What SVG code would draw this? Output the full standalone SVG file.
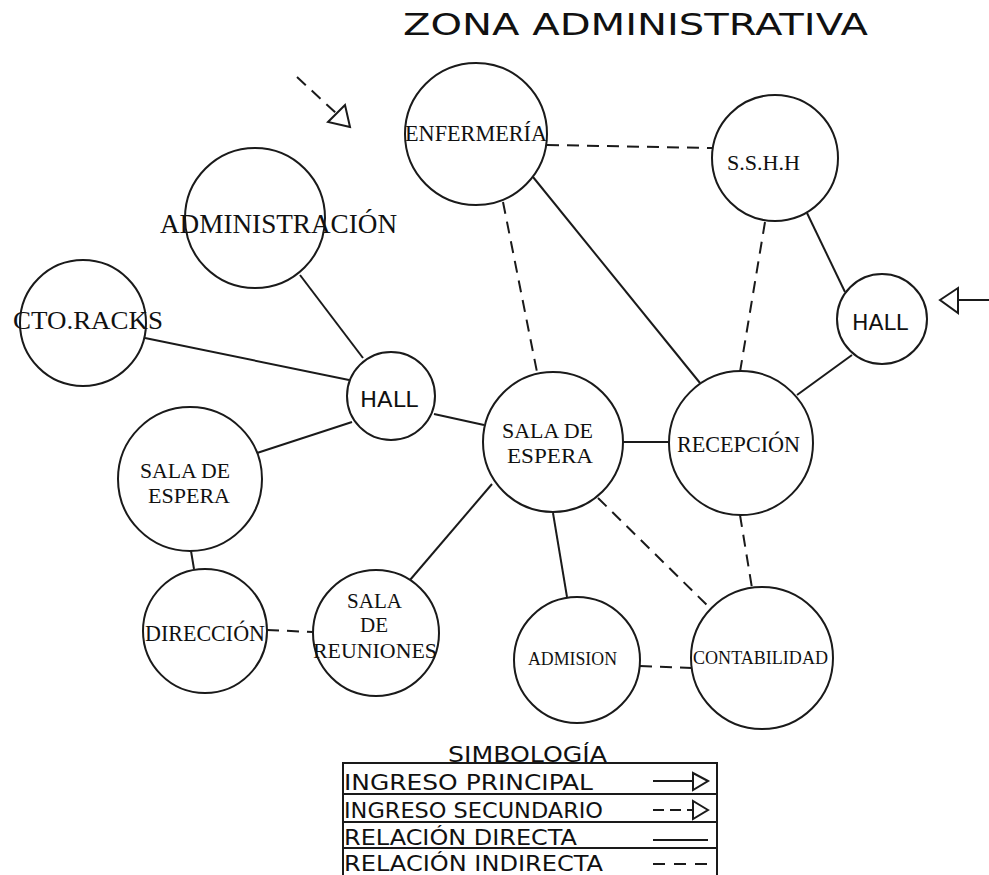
<svg xmlns="http://www.w3.org/2000/svg" width="989" height="875" viewBox="0 0 989 875">
<style>
.n{fill:#fff;stroke:#1a1a1a;stroke-width:2}
.s{font-family:"Liberation Serif","Times New Roman",serif;fill:#111;text-anchor:start}
.g{font-family:"DejaVu Sans","Liberation Sans",sans-serif;fill:#111}
.d{stroke:#1a1a1a;stroke-width:2;fill:none}
.i{stroke:#1a1a1a;stroke-width:2;fill:none;stroke-dasharray:12 8}
.t{fill:#fff;stroke:#1a1a1a;stroke-width:2}
</style>
<rect width="989" height="875" fill="#fff"/>
<text class="g" x="403" y="35" font-size="31" textLength="465" lengthAdjust="spacingAndGlyphs">ZONA ADMINISTRATIVA</text>

<g id="connectors">
<line class="i" x1="547" y1="145" x2="712" y2="148"/>
<line class="i" x1="503" y1="202" x2="537" y2="372"/>
<line class="d" x1="533" y1="177" x2="700" y2="383"/>
<line class="i" x1="765" y1="222" x2="740" y2="372"/>
<line class="d" x1="807" y1="213" x2="845" y2="292"/>
<line class="d" x1="852" y1="355" x2="797" y2="395"/>
<line class="d" x1="623" y1="442" x2="670" y2="442"/>
<line class="d" x1="553" y1="513" x2="567" y2="597"/>
<line class="i" x1="598" y1="498" x2="712" y2="610"/>
<line class="i" x1="740" y1="515" x2="752" y2="588"/>
<line class="i" x1="640" y1="666" x2="692" y2="668"/>
<line class="d" x1="434" y1="414" x2="484" y2="425"/>
<line class="d" x1="492" y1="484" x2="410" y2="580"/>
<line class="d" x1="300" y1="275" x2="363" y2="358"/>
<line class="d" x1="145" y1="338" x2="349" y2="380"/>
<line class="d" x1="257" y1="453" x2="352" y2="422"/>
<line class="d" x1="191" y1="551" x2="194" y2="569"/>
<line class="i" x1="267" y1="630" x2="313" y2="632"/>
<line class="i" x1="297" y1="77" x2="337" y2="114"/>
<polygon class="t" points="350,127 328,122 345,105"/>
<line class="d" x1="958" y1="300" x2="989" y2="300"/>
<polygon class="t" points="940,300 958,288 958,313"/>
</g>

<g id="enfermeria"><circle class="n" cx="476" cy="134" r="71"/><text class="s" x="405" y="141" font-size="24" textLength="142" lengthAdjust="spacingAndGlyphs">ENFERMERÍA</text></g>
<g id="sshh"><circle class="n" cx="775" cy="158" r="63"/><text class="s" x="727" y="170" font-size="22" textLength="73" lengthAdjust="spacingAndGlyphs">S.S.H.H</text></g>
<g id="hall-derecho"><circle class="n" cx="882" cy="319" r="45"/><text class="g" x="852" y="330" font-size="22" textLength="56" lengthAdjust="spacingAndGlyphs">HALL</text></g>
<g id="administracion"><circle class="n" cx="255" cy="218" r="70"/><text class="s" x="160" y="233" font-size="27" textLength="237" lengthAdjust="spacingAndGlyphs">ADMINISTRACIÓN</text></g>
<g id="cto-racks"><circle class="n" cx="83" cy="323" r="63"/><text class="s" x="13" y="329" font-size="26" textLength="150" lengthAdjust="spacingAndGlyphs">CTO.RACKS</text></g>
<g id="hall-izquierdo"><circle class="n" cx="391" cy="396" r="44"/><text class="g" x="360" y="407" font-size="22" textLength="58" lengthAdjust="spacingAndGlyphs">HALL</text></g>
<g id="sala-espera-izq"><circle class="n" cx="190" cy="479" r="72"/><text class="s" x="140" y="478" font-size="22" textLength="90" lengthAdjust="spacingAndGlyphs">SALA DE</text><text class="s" x="148" y="503" font-size="22" textLength="82" lengthAdjust="spacingAndGlyphs">ESPERA</text></g>
<g id="direccion"><circle class="n" cx="205" cy="631" r="62"/><text class="s" x="145" y="641" font-size="23" textLength="120" lengthAdjust="spacingAndGlyphs">DIRECCIÓN</text></g>
<g id="sala-reuniones"><circle class="n" cx="376" cy="633" r="63"/><text class="s" x="347" y="608" font-size="22" textLength="55" lengthAdjust="spacingAndGlyphs">SALA</text><text class="s" x="360" y="632" font-size="22" textLength="28" lengthAdjust="spacingAndGlyphs">DE</text><text class="s" x="313" y="658" font-size="22" textLength="124" lengthAdjust="spacingAndGlyphs">REUNIONES</text></g>
<g id="sala-espera"><circle class="n" cx="553" cy="442" r="70"/><text class="s" x="502" y="438" font-size="22" textLength="91" lengthAdjust="spacingAndGlyphs">SALA DE</text><text class="s" x="507" y="463" font-size="22" textLength="86" lengthAdjust="spacingAndGlyphs">ESPERA</text></g>
<g id="recepcion"><circle class="n" cx="741" cy="443" r="72"/><text class="s" x="677" y="452" font-size="23" textLength="123" lengthAdjust="spacingAndGlyphs">RECEPCIÓN</text></g>
<g id="admision"><circle class="n" cx="577" cy="660" r="63"/><text class="s" x="528" y="665" font-size="18" textLength="89" lengthAdjust="spacingAndGlyphs">ADMISION</text></g>
<g id="contabilidad"><circle class="n" cx="762" cy="658" r="71"/><text class="s" x="693" y="664" font-size="18" textLength="135" lengthAdjust="spacingAndGlyphs">CONTABILIDAD</text></g>

<g id="simbologia">
<text class="g" x="448" y="762" font-size="21" textLength="159" lengthAdjust="spacingAndGlyphs">SIMBOLOGÍA</text>
<rect x="343" y="763" width="374" height="120" fill="none" stroke="#1a1a1a" stroke-width="2"/>
<line class="d" x1="343" y1="794" x2="717" y2="794"/>
<line class="d" x1="343" y1="822" x2="717" y2="822"/>
<line class="d" x1="343" y1="848" x2="717" y2="848"/>
<text class="g" x="344" y="790" font-size="22" textLength="249" lengthAdjust="spacingAndGlyphs">INGRESO PRINCIPAL</text>
<text class="g" x="344" y="818" font-size="22" textLength="259" lengthAdjust="spacingAndGlyphs">INGRESO SECUNDARIO</text>
<text class="g" x="344" y="845" font-size="22" textLength="233" lengthAdjust="spacingAndGlyphs">RELACIÓN DIRECTA</text>
<text class="g" x="344" y="871" font-size="21" textLength="259" lengthAdjust="spacingAndGlyphs">RELACIÓN INDIRECTA</text>
<line class="d" x1="653" y1="781" x2="693" y2="781"/>
<polygon class="t" points="708,781 693,773 693,790"/>
<line class="d" x1="653" y1="810" x2="693" y2="810" stroke-dasharray="11 6"/>
<polygon class="t" points="708,810 693,801 693,819"/>
<line class="d" x1="653" y1="840" x2="708" y2="840"/>
<line class="d" x1="653" y1="864" x2="708" y2="864" stroke-dasharray="12 9"/>
</g>
</svg>
